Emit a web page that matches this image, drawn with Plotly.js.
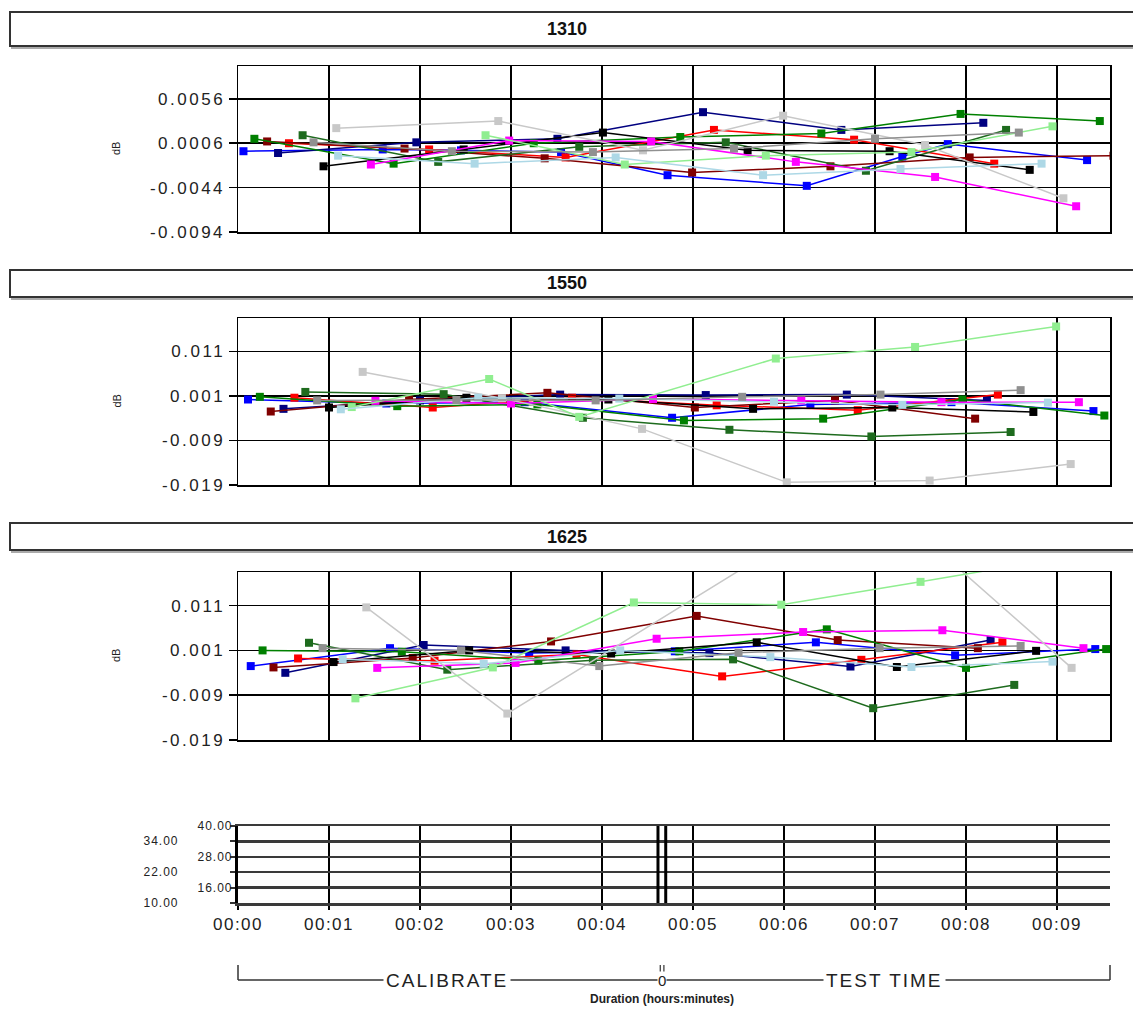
<!DOCTYPE html>
<html>
<head>
<meta charset="utf-8">
<script src="https://cdn.plot.ly/plotly-3.0.1.min.js"></script>
<style>
html,body{margin:0;padding:0;background:#fff;}
#chart{width:1133px;height:1011px;}
#chart .ytick text, #chart .y2tick text, #chart .y3tick text{letter-spacing:2.5px;}
#chart .x4tick text{letter-spacing:1.5px;}
</style>
</head>
<body>
<div id="chart"></div>
<script>
// ---------------- DATA ----------------
const panelTitles = ['1310', '1550', '1625'];
const seriesNames = ['blue','navy','red','darkred','green','dkgreen','black','magenta','silver','ltgreen','ltblue','gray'];

// Time in minutes, loss change in dB
// ---- 1310 ----
const w1310_blue_t    = [0.06, 1.59, 2.45, 3.55, 4.72, 6.25, 7.3, 7.8, 9.33];
const w1310_blue_db   = [-0.0003, -0.0001, -0.0002, -0.0004, -0.0030, -0.0042, -0.0009, 0.0005, -0.0013];
const w1310_navy_t    = [0.44, 1.96, 3.51, 5.11, 6.63, 8.19];
const w1310_navy_db   = [-0.0005, 0.0007, 0.0011, 0.0041, 0.0021, 0.0029];
const w1310_red_t     = [0.56, 2.1, 3.6, 5.23, 6.77, 8.31];
const w1310_red_db    = [0.0006, -0.0001, -0.0010, 0.0021, 0.0010, -0.0017];
const w1310_darkred_t = [0.32, 1.83, 3.37, 4.99, 6.51, 8.04, 9.62];
const w1310_darkred_db= [0.0008, 0.0000, -0.0011, -0.0027, -0.0020, -0.0010, -0.0008];
const w1310_green_t   = [0.18, 1.71, 3.25, 4.86, 6.41, 7.94, 9.47];
const w1310_green_db  = [0.0011, -0.0017, 0.0006, 0.0013, 0.0017, 0.0039, 0.0031];
const w1310_dkgreen_t = [0.71, 2.2, 3.75, 5.36, 6.9, 8.44];
const w1310_dkgreen_db= [0.0015, -0.0015, 0.0002, 0.0007, -0.0025, 0.0021];
const w1310_black_t   = [0.94, 2.48, 4.01, 5.6, 7.16, 8.7];
const w1310_black_db  = [-0.0020, -0.0001, 0.0018, -0.0002, -0.0003, -0.0024];
const w1310_magenta_t = [1.46, 2.98, 4.54, 6.13, 7.66, 9.21];
const w1310_magenta_db= [-0.0018, 0.0009, 0.0008, -0.0015, -0.0032, -0.0065];
const w1310_silver_t  = [1.08, 2.86, 4.45, 5.99, 7.55, 9.07];
const w1310_silver_db = [0.0023, 0.0031, -0.0002, 0.0037, 0.0004, -0.0056];
const w1310_ltgreen_t = [2.72, 4.25, 5.8, 7.4, 8.95];
const w1310_ltgreen_db= [0.0015, -0.0018, -0.0008, -0.0004, 0.0025];
const w1310_ltblue_t  = [1.1, 2.6, 4.15, 5.77, 7.28, 8.83];
const w1310_ltblue_db = [-0.0008, -0.0017, -0.0010, -0.0030, -0.0023, -0.0017];
const w1310_gray_t    = [0.83, 2.35, 3.9, 5.45, 7.0, 8.58];
const w1310_gray_db   = [0.0007, -0.0003, -0.0004, 0.0000, 0.0011, 0.0018];

// ---- 1550 ----
const w1550_blue_t    = [0.11, 1.63, 3.15, 4.77, 6.29, 7.84, 9.4];
const w1550_blue_db   = [0.0002, -0.0007, -0.0004, -0.0039, -0.0009, -0.0004, -0.0024];
const w1550_navy_t    = [0.5, 2.0, 3.54, 5.14, 6.69, 8.23];
const w1550_navy_db   = [-0.0019, 0.0000, 0.0013, 0.0012, 0.0013, 0.0000];
const w1550_red_t     = [0.62, 2.14, 3.67, 5.26, 6.81, 8.35];
const w1550_red_db    = [0.0006, -0.0016, 0.0006, -0.0011, -0.0022, 0.0013];
const w1550_darkred_t = [0.36, 1.88, 3.4, 5.02, 6.56, 8.1];
const w1550_darkred_db= [-0.0025, 0.0002, 0.0017, -0.0016, 0.0000, -0.0041];
const w1550_green_t   = [0.24, 1.75, 3.29, 4.9, 6.43, 7.96, 9.52];
const w1550_green_db  = [0.0008, -0.0013, -0.0009, -0.0045, -0.0041, 0.0002, -0.0034];
const w1550_dkgreen_t = [0.74, 2.26, 3.79, 5.4, 6.96, 8.49];
const w1550_dkgreen_db= [0.0019, 0.0014, -0.0039, -0.0066, -0.0081, -0.0071];
const w1550_black_t   = [1.0, 2.51, 4.07, 5.66, 7.19, 8.74];
const w1550_black_db  = [-0.0016, 0.0006, 0.0002, -0.0019, -0.0016, -0.0026];
const w1550_magenta_t = [1.51, 3.0, 4.56, 6.19, 7.73, 9.24];
const w1550_magenta_db= [-0.0001, -0.0007, 0.0003, 0.0000, -0.0004, -0.0004];
const w1550_silver_t  = [1.37, 2.9, 4.44, 6.03, 7.6, 9.15];
const w1550_silver_db = [0.0064, 0.0005, -0.0064, -0.0184, -0.0180, -0.0143];
const w1550_ltgreen_t = [1.25, 2.76, 3.75, 5.91, 7.44, 8.99];
const w1550_ltgreen_db= [-0.0015, 0.0048, -0.0037, 0.0094, 0.0120, 0.0166];
const w1550_ltblue_t  = [1.13, 2.64, 4.19, 5.89, 7.3, 8.9];
const w1550_ltblue_db = [-0.0020, 0.0006, 0.0004, -0.0003, -0.0010, -0.0005];
const w1550_gray_t    = [0.87, 2.4, 3.93, 5.54, 7.06, 8.6];
const w1550_gray_db   = [0.0000, 0.0001, 0.0000, 0.0008, 0.0013, 0.0023];

// ---- 1625 ----
const w1625_blue_t    = [0.14, 1.67, 3.2, 4.8, 6.35, 7.88, 9.42];
const w1625_blue_db   = [-0.0025, 0.0015, 0.0004, 0.0008, 0.0028, -0.0001, 0.0013];
const w1625_navy_t    = [0.52, 2.04, 3.6, 5.18, 6.73, 8.27];
const w1625_navy_db   = [-0.0040, 0.0022, 0.0010, 0.0004, -0.0026, 0.0033];
const w1625_red_t     = [0.66, 2.16, 3.72, 5.32, 6.85, 8.4];
const w1625_red_db    = [-0.0008, -0.0013, 0.0001, -0.0048, -0.0011, 0.0028];
const w1625_darkred_t = [0.39, 1.92, 3.44, 5.04, 6.59, 8.13];
const w1625_darkred_db= [-0.0028, -0.0007, 0.0030, 0.0087, 0.0033, 0.0015];
const w1625_green_t   = [0.27, 1.8, 3.3, 4.85, 6.47, 8.0, 9.54];
const w1625_green_db  = [0.0010, 0.0007, -0.0013, 0.0008, 0.0057, -0.0029, 0.0013];
const w1625_dkgreen_t = [0.78, 2.3, 3.9, 5.44, 6.98, 8.53];
const w1625_dkgreen_db= [0.0027, -0.0033, -0.0012, -0.0010, -0.0119, -0.0067];
const w1625_black_t   = [1.05, 2.54, 4.1, 5.7, 7.24, 8.77];
const w1625_black_db  = [-0.0016, 0.0010, 0.0003, 0.0028, -0.0027, 0.0009];
const w1625_magenta_t = [1.53, 3.05, 4.6, 6.21, 7.74, 9.29];
const w1625_magenta_db= [-0.0029, -0.0018, 0.0036, 0.0051, 0.0055, 0.0015];
const w1625_silver_t  = [1.41, 2.96, 6.0, 7.6, 9.16];
const w1625_silver_db = [0.0106, -0.0131, 0.025, 0.025, -0.0029];
const w1625_ltgreen_t = [1.29, 2.8, 4.35, 5.97, 7.5, 9.0];
const w1625_ltgreen_db= [-0.0097, -0.0028, 0.0117, 0.0112, 0.0163, 0.0215];
const w1625_ltblue_t  = [1.15, 2.7, 4.2, 5.85, 7.4, 8.95];
const w1625_ltblue_db = [-0.0010, -0.0020, 0.0010, -0.0005, -0.0027, -0.0015];
const w1625_gray_t    = [0.93, 2.45, 3.97, 5.5, 7.05, 8.6];
const w1625_gray_db   = [0.0015, 0.0010, -0.0025, 0.0005, 0.0015, 0.0020];

// Axis ticks
const y1310_ticks = [0.0056, 0.0006, -0.0044, -0.0094];
const y1310_text  = ['0.0056', '0.0006', '-0.0044', '-0.0094'];
const y15xx_ticks = [0.011, 0.001, -0.009, -0.019];
const y15xx_text  = ['0.011', '0.001', '-0.009', '-0.019'];
const timeTicks   = [0, 1, 2, 3, 4, 5, 6, 7, 8, 9];
const timeLabels  = ['00:00','00:01','00:02','00:03','00:04','00:05','00:06','00:07','00:08','00:09'];
const tempTicks   = [40, 34, 28, 22, 16, 10];
const tempLabels  = ['40.00','34.00','28.00','22.00','16.00','10.00'];
const calibrateEnd = [4.615, 4.70];   // double marker between calibrate and test
const phaseLabels = ['CALIBRATE', '0', 'TEST TIME'];
const phaseCenters = [2.3, 4.66, 7.1];

// ---------------- STYLE ----------------
const colors = {
  blue:'#0000FF', navy:'#000080', red:'#FF0000', darkred:'#800000', green:'#008000',
  dkgreen:'#1E6B1E', black:'#000000', magenta:'#FF00FF', silver:'#C8C8C8',
  ltgreen:'#90EE90', ltblue:'#ADD8E6', gray:'#909090'
};
const W = 1133, H = 1011;
const px = p => p / W;
const py = p => 1 - p / H;

const dataByPanel = {
  '1310': n => [eval('w1310_' + n + '_t'), eval('w1310_' + n + '_db')],
  '1550': n => [eval('w1550_' + n + '_t'), eval('w1550_' + n + '_db')],
  '1625': n => [eval('w1625_' + n + '_t'), eval('w1625_' + n + '_db')]
};

const traces = [];
panelTitles.forEach((p, i) => {
  const ax = i === 0 ? '' : String(i + 1);
  seriesNames.forEach(n => {
    const [t, v] = dataByPanel[p](n);
    traces.push({
      type: 'scatter', mode: 'lines+markers', x: t, y: v,
      xaxis: 'x' + ax, yaxis: 'y' + ax, showlegend: false, hoverinfo: 'skip',
      line: {color: colors[n], width: 1.5},
      marker: {symbol: 'square', size: 8, color: colors[n]},
      cliponaxis: true
    });
  });
});
// small temperature strip (empty trace to anchor axis)
traces.push({type:'scatter', mode:'markers', x:[0], y:[10], xaxis:'x4', yaxis:'y4',
  marker:{opacity:0}, showlegend:false, hoverinfo:'skip'});

const XR = [0, 9.582];
const xdom = [px(238), px(1110)];
const tickFont = {family:'Liberation Sans, Arial, sans-serif', size:17, color:'#222'};

function mainX(anchor) {
  return {domain: xdom, range: XR, anchor: anchor, tickvals: timeTicks, showticklabels:false,
    showgrid:true, gridcolor:'#000', gridwidth:1.5, showline:true, mirror:true, linecolor:'#000',
    linewidth:1.5, ticks:'', zeroline:false, fixedrange:true};
}
function mainY(anchor, dom, range, tv, tt) {
  return {domain: dom, range: range, anchor: anchor, tickvals: tv, ticktext: tt,
    showgrid:true, gridcolor:'#000', gridwidth:1.5, showline:true, mirror:true, linecolor:'#000',
    linewidth:1.5, ticks:'outside', ticklen:8, tickwidth:1.5, tickcolor:'#000', tickfont: tickFont,
    zeroline:false, fixedrange:true};
}

const layout = {
  width: W, height: H, margin:{l:0, r:0, t:0, b:0}, paper_bgcolor:'#fff', plot_bgcolor:'#fff',
  showlegend:false,
  xaxis: mainX('y'),
  yaxis: mainY('x', [py(232), py(66)], [-0.0094, 0.0093], y1310_ticks, y1310_text),
  xaxis2: mainX('y2'),
  yaxis2: mainY('x2', [py(485), py(318)], [-0.019, 0.0185], y15xx_ticks, y15xx_text),
  xaxis3: mainX('y3'),
  yaxis3: mainY('x3', [py(740), py(572)], [-0.019, 0.0185], y15xx_ticks, y15xx_text),
  xaxis4: {domain: xdom, range: XR, anchor:'y4', tickvals: timeTicks, ticktext: timeLabels,
    showgrid:true, gridcolor:'#000', gridwidth:1.2, showline:true, mirror:true, linecolor:'#3a3a3a',
    linewidth:2.5, ticks:'outside', ticklen:4, tickwidth:1.2, tickcolor:'#000', tickfont: tickFont,
    zeroline:false, fixedrange:true},
  yaxis4: {domain:[py(903), py(826)], range:[10, 40], anchor:'x4', tickvals: tempTicks,
    showticklabels:false, showgrid:true, gridcolor:'#3a3a3a', gridwidth:2.5, showline:true,
    linecolor:'#000', linewidth:3, ticks:'outside', ticklen:5, tickwidth:2, tickcolor:'#333',
    zeroline:false, fixedrange:true},
  shapes: [], annotations: []
};

// Title boxes
const boxes = [[12, 46], [270, 297], [523, 550]];
boxes.forEach((b, i) => {
  layout.shapes.push({type:'rect', xref:'paper', yref:'paper', x0:px(12), x1:1.02, y0:py(b[1]+2), y1:py(b[0]+2),
    line:{color:'#aaa', width:2}, fillcolor:'rgba(0,0,0,0)', layer:'below'});
  layout.shapes.push({type:'rect', xref:'paper', yref:'paper', x0:px(10), x1:1.02, y0:py(b[1]), y1:py(b[0]),
    line:{color:'#333', width:2}, fillcolor:'#fff'});
  layout.annotations.push({xref:'paper', yref:'paper', x:0.5, y:py((b[0]+b[1])/2), xanchor:'center', yanchor:'middle',
    text:'<b>'+panelTitles[i]+'</b>',
    showarrow:false, font:{family:'Liberation Sans Narrow, Liberation Sans, Arial', size:18, color:'#111'}});
});
// dB labels
[[66,232],[318,485],[572,740]].forEach(d => {
  layout.annotations.push({xref:'paper', yref:'paper', x:px(116), y:py((d[0]+d[1])/2), xanchor:'center', yanchor:'middle',
    text:'dB', textangle:-90, showarrow:false, font:{family:'Liberation Sans, Arial', size:11, color:'#222'}});
});
// temperature labels (staggered)
tempTicks.forEach((v, i) => {
  layout.annotations.push({xref:'paper', yref:'y4', x: i % 2 === 0 ? px(232) : px(178), y: v,
    xanchor:'right', yanchor:'middle', text: tempLabels[i], showarrow:false,
    font:{family:'Liberation Sans Narrow, Liberation Sans, Arial', size:12, color:'#222'}});
});
// calibrate / test double line on temperature strip
calibrateEnd.forEach(t => {
  layout.shapes.push({type:'line', xref:'x4', yref:'y4', x0:t, x1:t, y0:10, y1:40, line:{color:'#000', width:3}});
});
// bracket for phases
const yb = py(980), yt = py(965);
layout.shapes.push({type:'line', xref:'paper', yref:'paper', x0:xdom[0], x1:xdom[1], y0:yb, y1:yb, line:{color:'#333', width:1.5}});
layout.shapes.push({type:'line', xref:'paper', yref:'paper', x0:xdom[0], x1:xdom[0], y0:yb, y1:yt, line:{color:'#333', width:1.5}});
layout.shapes.push({type:'line', xref:'paper', yref:'paper', x0:xdom[1], x1:xdom[1], y0:yb, y1:yt, line:{color:'#333', width:1.5}});
layout.shapes.push({type:'line', xref:'x4', yref:'paper', x0:4.64, x1:4.64, y0:py(972), y1:yt, line:{color:'#333', width:1.2}});
layout.shapes.push({type:'line', xref:'x4', yref:'paper', x0:4.68, x1:4.68, y0:py(972), y1:yt, line:{color:'#333', width:1.2}});
phaseLabels.forEach((s, i) => {
  layout.annotations.push({xref:'x4', yref:'paper', x: phaseCenters[i], y: yb, xanchor:'center', yanchor:'middle',
    text: s, showarrow:false, bgcolor:'#fff', borderpad: i === 1 ? 0 : 11,
    font:{family:'Liberation Sans, Arial', size: i === 1 ? 15 : 19, color:'#222'}});
});
layout.annotations.push({xref:'x4', yref:'paper', x:4.66, y:py(999), xanchor:'center', yanchor:'middle',
  text:'<b>Duration (hours:minutes)</b>',
  showarrow:false, font:{family:'Liberation Sans Narrow, Liberation Sans, Arial', size:12, color:'#222'}});

Plotly.newPlot('chart', traces, layout, {displayModeBar:false, staticPlot:true}).then(() => {
  const spacing = {'CALIBRATE':'2px', 'TEST TIME':'2px', '40.00':'1px', '34.00':'1px',
    '28.00':'1px', '22.00':'1px', '16.00':'1px', '10.00':'1px'};
  document.querySelectorAll('#chart .annotation-text').forEach(el => {
    const s = spacing[el.textContent];
    if (s) el.style.letterSpacing = s;
  });
});
</script>
</body>
</html>
